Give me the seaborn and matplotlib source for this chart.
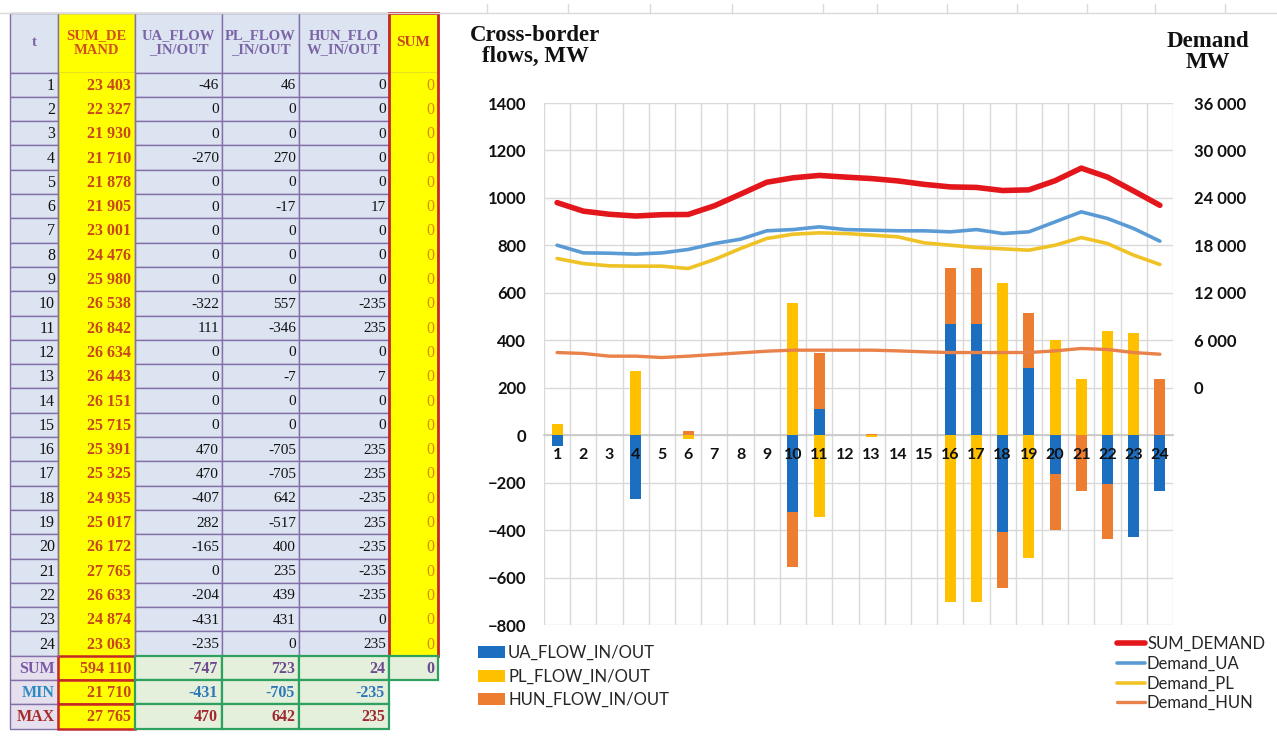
import numpy as np
import pandas as pd
import matplotlib
matplotlib.use("Agg")
import matplotlib.pyplot as plt
import seaborn as sns
from matplotlib.patches import Rectangle, Patch
from matplotlib.lines import Line2D
from matplotlib.ticker import FuncFormatter

# ---------------- data ----------------
hours = list(range(1, 25))
sum_demand = [23403, 22327, 21930, 21710, 21878, 21905, 23001, 24476, 25980, 26538,
              26842, 26634, 26443, 26151, 25715, 25391, 25325, 24935, 25017, 26172,
              27765, 26633, 24874, 23063]
ua_flow = [-46, 0, 0, -270, 0, 0, 0, 0, 0, -322, 111, 0, 0, 0, 0, 470, 470, -407,
           282, -165, 0, -204, -431, -235]
pl_flow = [46, 0, 0, 270, 0, -17, 0, 0, 0, 557, -346, 0, -7, 0, 0, -705, -705, 642,
           -517, 400, 235, 439, 431, 0]
hun_flow = [0, 0, 0, 0, 0, 17, 0, 0, 0, -235, 235, 0, 7, 0, 0, 235, 235, -235,
            235, -235, -235, -235, 0, 235]
sum_check = [0] * 24

demand_ua = [18020, 17050, 17010, 16890, 17050, 17480, 18230, 18780, 19840, 20000,
             20340, 20000, 19920, 19840, 19840, 19710, 20000, 19500, 19710, 20970,
             22240, 21400, 20130, 18530]
demand_pl = [16340, 15700, 15410, 15370, 15370, 15070, 16210, 17600, 18870, 19410,
             19580, 19500, 19290, 19080, 18320, 18020, 17730, 17560, 17390, 18020,
             18990, 18230, 16760, 15580]
demand_hun = [4450, 4330, 3990, 3990, 3820, 3990, 4200, 4410, 4620, 4750,
              4750, 4750, 4750, 4660, 4540, 4450, 4450, 4450, 4450, 4660,
              4960, 4830, 4450, 4240]

summary_labels = ["SUM", "MIN", "MAX"]
summary_demand = [594110, 21710, 27765]
summary_ua = [-747, -431, 470]
summary_pl = [723, -705, 642]
summary_hun = [24, -235, 235]
summary_total = 0

left_ticks = list(range(-800, 1401, 200))
right_ticks = list(range(0, 36001, 6000))

# ---------------- styling ----------------
C_UA = "#1B6EC0"
C_PL = "#FFC000"
C_HUN = "#ED7D31"
C_SUM_LINE = "#E3161B"
C_UA_LINE = "#5B9BD5"
C_PL_LINE = "#EFC226"
C_HUN_LINE = "#E8824A"
GRID = "#D9D9D9"

W, H = 1277, 738
sns.set_theme(style="white")
plt.rcParams["font.family"] = ["Lato", "DejaVu Sans"]
SERIF = ["Liberation Serif", "DejaVu Serif"]

fig = plt.figure(figsize=(W / 100, H / 100), dpi=100)
fig.patch.set_facecolor("white")


def fmt_space(v):
    s = f"{abs(int(v)):,}".replace(",", " ")
    return ("-" if v < 0 else "") + s


# ---------------- table ----------------
tab = fig.add_axes([0, 0, 1, 1], zorder=-1)
tab.set_xlim(0, W)
tab.set_ylim(H, 0)
tab.axis("off")

# faint worksheet grid
tab.plot([0, W], [13, 13], color="#DADADA", lw=1)
for xg in [487, 568, 650, 732, 823, 877, 947, 1017, 1087, 1155, 1225]:
    tab.plot([xg, xg], [4, 13], color="#DADADA", lw=1)

cols = [10, 58, 135, 222, 299, 389, 438]
top_h, bot_h = 13, 72.5
rh = 24.3
LAV = "#DCE4F2"
YEL = "#FFFF00"
PURP = "#8470A8"
GREEN_BG = "#E4F0DC"
GREEN_BD = "#2EA060"
RED_BD = "#C62828"


def cell(x0, x1, y0, y1, fc, ec=None, lw=1.0):
    tab.add_patch(Rectangle((x0, y0), x1 - x0, y1 - y0, facecolor=fc,
                            edgecolor=ec if ec else "none", lw=lw))


# header
for ci in range(6):
    fc = YEL if ci in (1, 5) else LAV
    cell(cols[ci], cols[ci + 1], top_h, bot_h, fc, PURP, 1.0)
headers = ["t", "SUM_DE\nMAND", "UA_FLOW\n_IN/OUT", "PL_FLOW\n_IN/OUT", "HUN_FLO\nW_IN/OUT", "SUM"]
hcolors = ["#7A64A6", "#D2501E", "#7A64A6", "#7A64A6", "#7A64A6", "#C8461E"]
for ci, (txt, col) in enumerate(zip(headers, hcolors)):
    tab.text((cols[ci] + cols[ci + 1]) / 2, (top_h + bot_h) / 2, txt, ha="center",
             va="center", family=SERIF, fontweight="bold", fontsize=10.5 if ci != 5 else 11,
             color=col, linespacing=1.15)

# data rows
y_end = bot_h + 24 * rh
cell(cols[1], cols[2], bot_h, y_end, YEL)
cell(cols[5], cols[6], bot_h, y_end, YEL)
for i in range(24):
    y0 = bot_h + i * rh
    y1 = y0 + rh
    for ci in (0, 2, 3, 4):
        cell(cols[ci], cols[ci + 1], y0, y1, LAV, PURP, 1.0)
    yc = (y0 + y1) / 2 + 1
    tab.text(cols[1] - 3, yc, str(hours[i]), ha="right", va="center", family=SERIF,
             fontsize=11.5, color="#111111")
    tab.text(cols[2] - 4, yc, fmt_space(sum_demand[i]), ha="right", va="center",
             family=SERIF, fontsize=11.5, fontweight="bold", color="#C8461E")
    for ci, arr in zip((2, 3, 4), (ua_flow, pl_flow, hun_flow)):
        tab.text(cols[ci + 1] - 3, yc, str(arr[i]), ha="right", va="center",
                 family=SERIF, fontsize=11, color="#111111")
    tab.text(cols[6] - 4, yc, str(sum_check[i]), ha="right", va="center",
             family=SERIF, fontsize=11.5, color="#E08A00")
# vertical purple edges of the yellow demand column
tab.plot([cols[1], cols[1]], [bot_h, y_end], color=PURP, lw=1)
tab.plot([cols[2], cols[2]], [bot_h, y_end], color=PURP, lw=1)
# red frame around SUM column
tab.add_patch(Rectangle((cols[5], top_h), cols[6] - cols[5], y_end - top_h,
                        facecolor="none", edgecolor=RED_BD, lw=2))

# summary rows
lab_colors = ["#7A5AA6", "#2E8BC0", "#A52A2A"]
val_colors = ["#6E4A90", "#2E78B8", "#A0282E"]
for j in range(3):
    y0 = y_end + j * rh
    y1 = y0 + rh
    yc = (y0 + y1) / 2 + 1
    cell(cols[0], cols[1], y0, y1, "#E6E0EE", PURP, 1.0)
    tab.text(cols[1] - 3, yc, summary_labels[j], ha="right", va="center", family=SERIF,
             fontsize=11.5, fontweight="bold", color=lab_colors[j])
    cell(cols[1], cols[2], y0, y1, YEL, RED_BD, 1.8)
    tab.text(cols[2] - 4, yc, fmt_space(summary_demand[j]), ha="right", va="center",
             family=SERIF, fontsize=11.5, fontweight="bold", color="#C8461E")
    for ci, arr in zip((2, 3, 4), (summary_ua, summary_pl, summary_hun)):
        cell(cols[ci], cols[ci + 1], y0, y1, GREEN_BG, GREEN_BD, 1.6)
        tab.text(cols[ci + 1] - 4, yc, str(arr[j]), ha="right", va="center",
                 family=SERIF, fontsize=11.5, fontweight="bold", color=val_colors[j])
    if j == 0:
        cell(cols[5], cols[6], y0, y1, GREEN_BG, GREEN_BD, 1.6)
        tab.text(cols[6] - 4, yc, str(summary_total), ha="right", va="center",
                 family=SERIF, fontsize=11.5, fontweight="bold", color=val_colors[0])

# ---------------- chart ----------------
px0, px1, py0, py1 = 544, 1173, 103, 625
ax = fig.add_axes([px0 / W, 1 - py1 / H, (px1 - px0) / W, (py1 - py0) / H])
cats = [str(h) for h in hours]

# gridlines drawn beneath the bars; axis labels stay above them
for yv in left_ticks:
    ax.axhline(yv, color=GRID, lw=1, zorder=0)
for xv in np.arange(-0.5, 24, 1):
    ax.axvline(xv, color=GRID, lw=1, zorder=0)

pos_base = np.zeros(24)
neg_base = np.zeros(24)
for vals, color in [(ua_flow, C_UA), (pl_flow, C_PL), (hun_flow, C_HUN)]:
    v = np.array(vals, dtype=float)
    bottom = np.where(v >= 0, pos_base, neg_base)
    df = pd.DataFrame({"t": cats, "v": v})
    sns.barplot(data=df, x="t", y="v", order=cats, color=color, saturation=1,
                width=0.42, errorbar=None, bottom=bottom, linewidth=0, ax=ax)
    pos_base += np.where(v > 0, v, 0)
    neg_base += np.where(v < 0, v, 0)

ax.set_xlim(-0.5, 23.5)
ax.set_ylim(-800, 1400)
ax.set_yticks(left_ticks)
ax.set_xticks(np.arange(24))
ax.set_xticklabels(cats)
ax.grid(False)
ax.set_axisbelow(False)
for s in ("top", "right", "left"):
    ax.spines[s].set_visible(False)
ax.spines["bottom"].set_position(("data", 0))
ax.spines["bottom"].set_color("#C8C8C8")
ax.spines["bottom"].set_zorder(0.5)
ax.tick_params(axis="x", which="both", length=0, pad=9, labelsize=11.5)
ax.tick_params(axis="y", length=0, pad=13, labelsize=12)
for lab in ax.get_xticklabels() + ax.get_yticklabels():
    lab.set_fontweight("bold")
    lab.set_color("#111111")
ax.set_xlabel("")
ax.set_ylabel("")

ax2 = ax.twinx()
xpos = np.arange(24)
for vals, color, lw in [(sum_demand, C_SUM_LINE, 4.0), (demand_ua, C_UA_LINE, 2.6),
                        (demand_pl, C_PL_LINE, 2.6), (demand_hun, C_HUN_LINE, 2.4)]:
    sns.lineplot(x=xpos, y=vals, color=color, lw=lw, ax=ax2, solid_joinstyle="round")
ax2.set_xlim(-0.5, 23.5)
ax2.set_ylim(-30000, 36000)
ax2.set_yticks(right_ticks)
ax2.yaxis.set_major_formatter(FuncFormatter(lambda v, p: fmt_space(v)))
ax2.tick_params(axis="y", length=0, pad=15, labelsize=12)
for lab in ax2.get_yticklabels():
    lab.set_fontweight("bold")
    lab.set_color("#111111")
ax2.grid(False)
for s in ax2.spines.values():
    s.set_visible(False)
ax2.set_ylabel("")

# axis titles
fig.text(535 / W, 1 - 46 / H, "Cross-border\nflows, MW", ha="center", va="center",
         family=SERIF, fontweight="bold", fontsize=16.5, linespacing=0.95, color="#111111")
fig.text(1208 / W, 1 - 52 / H, "Demand\nMW", ha="center", va="center",
         family=SERIF, fontweight="bold", fontsize=16.5, linespacing=0.95, color="#111111")

# legends
bar_handles = [Patch(facecolor=c, edgecolor="none") for c in (C_UA, C_PL, C_HUN)]
fig.legend(bar_handles, ["UA_FLOW_IN/OUT", "PL_FLOW_IN/OUT", "HUN_FLOW_IN/OUT"],
           loc="upper left", bbox_to_anchor=(478 / W, 1 - 645 / H), frameon=False,
           fontsize=12, handlelength=1.6, handleheight=0.7, handletextpad=0.2,
           labelspacing=0.45, borderaxespad=0, borderpad=0)
line_handles = [Line2D([0], [0], color=C_SUM_LINE, lw=4.0),
                Line2D([0], [0], color=C_UA_LINE, lw=2.6),
                Line2D([0], [0], color=C_PL_LINE, lw=2.6),
                Line2D([0], [0], color=C_HUN_LINE, lw=2.4)]
fig.legend(line_handles, ["SUM_DEMAND", "Demand_UA", "Demand_PL", "Demand_HUN"],
           loc="upper left", bbox_to_anchor=(1117 / W, 1 - 636 / H), frameon=False,
           fontsize=12, handlelength=1.7, handletextpad=0.1, labelspacing=0.22,
           borderaxespad=0, borderpad=0)

fig.savefig("out.png", dpi=100, facecolor="white")
